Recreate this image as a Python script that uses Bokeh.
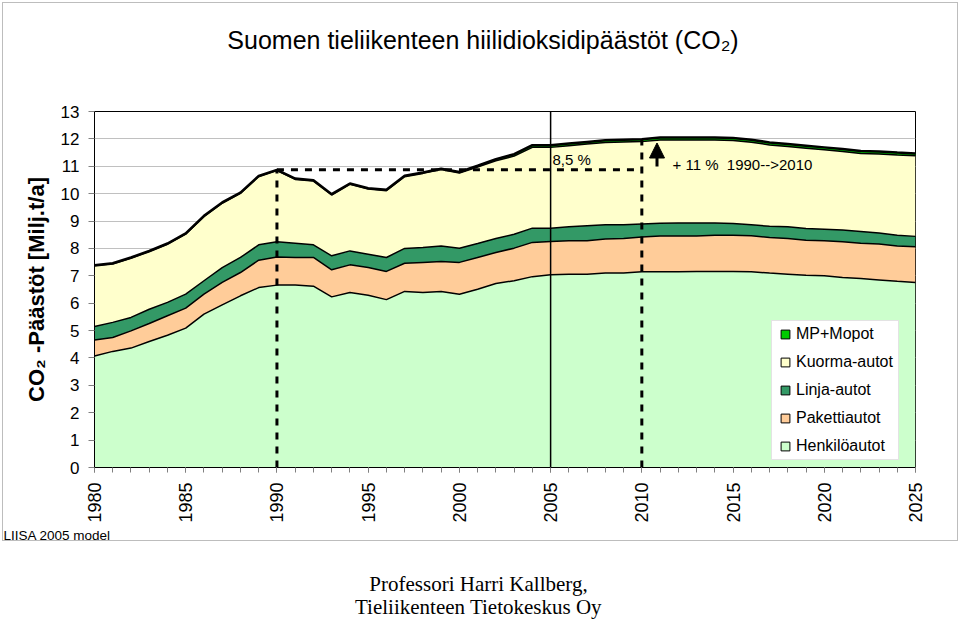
import math
import numpy as np
from bokeh.plotting import figure
from bokeh.layouts import column
from bokeh.models import (ColumnDataSource, Range1d, FixedTicker, Label, Legend,
                          LegendItem, Span, Arrow, NormalHead)
from bokeh.embed import file_html
from bokeh.resources import INLINE

# ---------------- data (Milj. t CO2 / a) ----------------
years = list(range(1980, 2026))

henkiloautot = [4.07, 4.24, 4.36, 4.60, 4.83, 5.09, 5.60, 5.94, 6.27, 6.57,
                6.66, 6.66, 6.62, 6.23, 6.39, 6.29, 6.13, 6.43, 6.39, 6.43,
                6.33, 6.51, 6.72, 6.82, 6.97, 7.04, 7.06, 7.06, 7.10, 7.10,
                7.15, 7.15, 7.15, 7.16, 7.16, 7.16, 7.15, 7.10, 7.06, 7.02,
                7.00, 6.94, 6.90, 6.85, 6.80, 6.76]
pakettiautot = [0.59, 0.51, 0.63, 0.66, 0.71, 0.73, 0.73, 0.82, 0.85, 1.00,
                1.03, 1.01, 1.05, 0.99, 1.01, 1.01, 1.03, 1.03, 1.10, 1.09,
                1.16, 1.16, 1.13, 1.19, 1.25, 1.21, 1.22, 1.22, 1.24, 1.26,
                1.27, 1.30, 1.30, 1.29, 1.32, 1.32, 1.31, 1.30, 1.30, 1.28,
                1.28, 1.30, 1.29, 1.31, 1.29, 1.30]
linja_autot = [0.49, 0.55, 0.49, 0.52, 0.49, 0.51, 0.49, 0.54, 0.55, 0.56,
               0.55, 0.52, 0.46, 0.51, 0.51, 0.49, 0.51, 0.54, 0.54, 0.57,
               0.52, 0.51, 0.51, 0.51, 0.52, 0.49, 0.51, 0.55, 0.52, 0.50,
               0.47, 0.47, 0.48, 0.48, 0.45, 0.43, 0.40, 0.41, 0.43, 0.43,
               0.42, 0.43, 0.43, 0.40, 0.39, 0.38]
kuorma_autot = [2.21, 2.13, 2.16, 2.10, 2.12, 2.19, 2.34, 2.35, 2.34, 2.49,
                2.60, 2.33, 2.33, 2.22, 2.43, 2.38, 2.44, 2.62, 2.71, 2.79,
                2.74, 2.79, 2.84, 2.85, 2.95, 2.95, 2.96, 2.98, 3.01, 3.03,
                3.01, 3.04, 3.03, 3.03, 3.03, 3.03, 3.02, 2.97, 2.93, 2.93,
                2.90, 2.87, 2.85, 2.89, 2.93, 2.94]
mp_mopot = [0.03, 0.03, 0.03, 0.03, 0.03, 0.03, 0.03, 0.03, 0.03, 0.03,
            0.03, 0.03, 0.03, 0.03, 0.03, 0.03, 0.03, 0.03, 0.03, 0.03,
            0.04, 0.05, 0.06, 0.07, 0.08, 0.08, 0.08, 0.08, 0.08, 0.08,
            0.09, 0.09, 0.09, 0.09, 0.09, 0.09, 0.09, 0.09, 0.09, 0.09,
            0.09, 0.09, 0.09, 0.09, 0.09, 0.09]

series_names = ["Henkilöautot", "Pakettiautot", "Linja-autot", "Kuorma-autot", "MP+Mopot"]
series_colors = ["#CCFFCC", "#FFCC99", "#339966", "#FFFFCC", "#00CC00"]
x_tick_years = list(range(1980, 2026, 5))
y_ticks = list(range(0, 14))
base_year, target_year, split_year = 1990, 2010, 2005

# ---------------- layout (page pixels; page origin = canvas origin) ----------------
W = 960
TOP_H, MAIN_H, LIISA_H, FOOT_H = 90, 435, 18, 76      # stacked heights, total 619
FL, FR, FT, FB = 94, 915, 111, 467                   # frame edges in page px
X0, X1, Y0, Y1 = 1980, 2025, 0, 13
FONT = "Liberation Sans"


def dx(px):
    return X0 + (px - FL) * (X1 - X0) / (FR - FL)


def dy(py):
    return Y0 + (FB - py) * (Y1 - Y0) / (FB - FT)


def text_fig(h):
    f = figure(width=W, height=h, output_backend="svg", toolbar_location=None,
               x_range=Range1d(0, W), y_range=Range1d(0, h),
               x_axis_type=None, y_axis_type=None, min_border=0)
    f.outline_line_color = None
    f.background_fill_color = None
    f.border_fill_color = None
    f.grid.visible = False
    return f


# ---------------- title strip ----------------
top = text_fig(TOP_H)
top.add_layout(Label(x=482.5, y=TOP_H - 39, text="Suomen tieliikenteen hiilidioksidipäästöt (CO\u2082)",
                     text_font=FONT, text_font_size="25px",
                     text_align="center", text_baseline="alphabetic", text_color="black"))

# ---------------- main chart ----------------
keys = ["h", "p", "l", "k", "m"]
src = ColumnDataSource(dict(year=years, h=henkiloautot, p=pakettiautot,
                            l=linja_autot, k=kuorma_autot, m=mp_mopot))

p = figure(width=W, height=MAIN_H, output_backend="svg", toolbar_location=None,
           x_range=Range1d(X0, X1), y_range=Range1d(Y0, Y1),
           min_border_left=FL, min_border_right=W - FR,
           min_border_top=FT - TOP_H, min_border_bottom=TOP_H + MAIN_H - FB)
p.background_fill_color = "white"
p.border_fill_color = None
p.outline_line_color = "black"
p.outline_line_width = 1

p.varea_stack(keys, x="year", source=src, color=series_colors)
p.vline_stack(keys, x="year", source=src, line_color="black",
              line_width=[1.5, 1.5, 1.5, 1.5, 2.5])

total = (np.array(henkiloautot) + np.array(pakettiautot) + np.array(linja_autot)
         + np.array(kuorma_autot) + np.array(mp_mopot))
t_base = float(total[years.index(base_year)])
t_target = float(total[years.index(target_year)])

dash = dict(line_color="black", line_width=3, line_dash="7 7")
p.line([base_year, base_year], [0, t_base], **dash)
p.line([base_year, target_year], [t_base, t_base], **dash)
p.line([target_year, target_year], [0, t_target], **dash)

p.add_layout(Span(location=split_year, dimension="height", line_color="black", line_width=1.5))

p.add_layout(Arrow(end=NormalHead(size=15, fill_color="black", line_color="black"),
                   x_start=dx(656.5), y_start=dy(166), x_end=dx(656.5), y_end=dy(142.5),
                   line_color="black", line_width=3))

ax = p.xaxis[0]
ax.ticker = FixedTicker(ticks=x_tick_years, minor_ticks=years)
ax.major_label_orientation = math.pi / 2
ax.major_label_text_font = FONT
ax.major_label_text_font_size = "18px"
ax.major_label_text_color = "black"
ax.major_label_standoff = 10
ax.axis_line_color = "black"
ax.major_tick_in = 0
ax.major_tick_out = 5
ax.minor_tick_in = 0
ax.minor_tick_out = 5
ax.major_tick_line_color = "#808080"
ax.minor_tick_line_color = "#808080"

ay = p.yaxis[0]
ay.ticker = FixedTicker(ticks=y_ticks)
ay.major_label_text_font = FONT
ay.major_label_text_font_size = "17px"
ay.major_label_text_color = "black"
ay.major_label_standoff = 9
ay.axis_line_color = "black"
ay.major_tick_in = 0
ay.major_tick_out = 6
ay.major_tick_line_color = "#808080"
ay.minor_tick_line_color = None
ay.axis_label = "CO\u2082 -Päästöt [Milj.t/a]"
ay.axis_label_text_font = FONT
ay.axis_label_text_font_style = "bold"
ay.axis_label_text_font_size = "22px"
ay.axis_label_text_color = "black"
ay.axis_label_standoff = 9

p.xgrid.visible = False
p.ygrid.ticker = FixedTicker(ticks=y_ticks)
p.ygrid.grid_line_color = "#c0c0c0"
p.ygrid.grid_line_width = 1

rends = {}
for name, col in zip(series_names, series_colors):
    rends[name] = p.scatter(x=[np.nan], y=[np.nan], marker="square", size=9,
                            fill_color=col, line_color="black", line_width=1)
items = [LegendItem(label=n, renderers=[rends[n]]) for n in reversed(series_names)]
legend = Legend(items=items, location=(677, 7), orientation="vertical",
                padding=2, spacing=6, margin=0, glyph_width=22, glyph_height=22,
                label_height=20, label_width=100, label_standoff=0, label_text_font=FONT,
                label_text_font_size="16px", label_text_color="black",
                border_line_color="#c8c8c8", border_line_width=1,
                background_fill_color="white", background_fill_alpha=1)
p.add_layout(legend, "center")

p.add_layout(Label(x=dx(552), y=dy(158.8), text="8,5 %", text_font=FONT, text_color="black",
                   text_font_size="15px", text_align="left", text_baseline="alphabetic"))
p.add_layout(Label(x=dx(672), y=dy(163.8), text="+ 11 %\u00a0\u00a01990-->2010", text_font=FONT,
                   text_color="black", text_font_size="15px", text_align="left",
                   text_baseline="alphabetic"))

# ---------------- source note ----------------
liisa = text_fig(LIISA_H)
liisa.add_layout(Label(x=3, y=TOP_H + MAIN_H + LIISA_H - 535, text="LIISA 2005 model",
                       text_font=FONT, text_font_size="13.5px", text_color="black",
                       text_align="left", text_baseline="alphabetic"))

# ---------------- footer ----------------
foot = text_fig(FOOT_H)
foot_top = TOP_H + MAIN_H + LIISA_H
foot.add_layout(Label(x=478, y=foot_top + FOOT_H - 583.7, text="Professori Harri Kallberg,",
                      text_font="Liberation Serif", text_font_size="21px", text_color="black",
                      text_align="center", text_baseline="alphabetic"))
foot.add_layout(Label(x=478, y=foot_top + FOOT_H - 606.7, text="Tieliikenteen Tietokeskus Oy",
                      text_font="Liberation Serif", text_font_size="21px", text_color="black",
                      text_align="center", text_baseline="alphabetic"))

# each text strip in its own column so that its frame is not aligned with the chart's
chart_box = column(column(top, spacing=0), p, column(liisa, spacing=0), spacing=0,
                   styles={"background-color": "white",
                           "box-shadow": "inset 0 0 0 2px white, inset 0 0 0 3px #bdbdbd"})
page = column(chart_box, foot, spacing=0)

open("out.html", "w").write(file_html(page, INLINE))
